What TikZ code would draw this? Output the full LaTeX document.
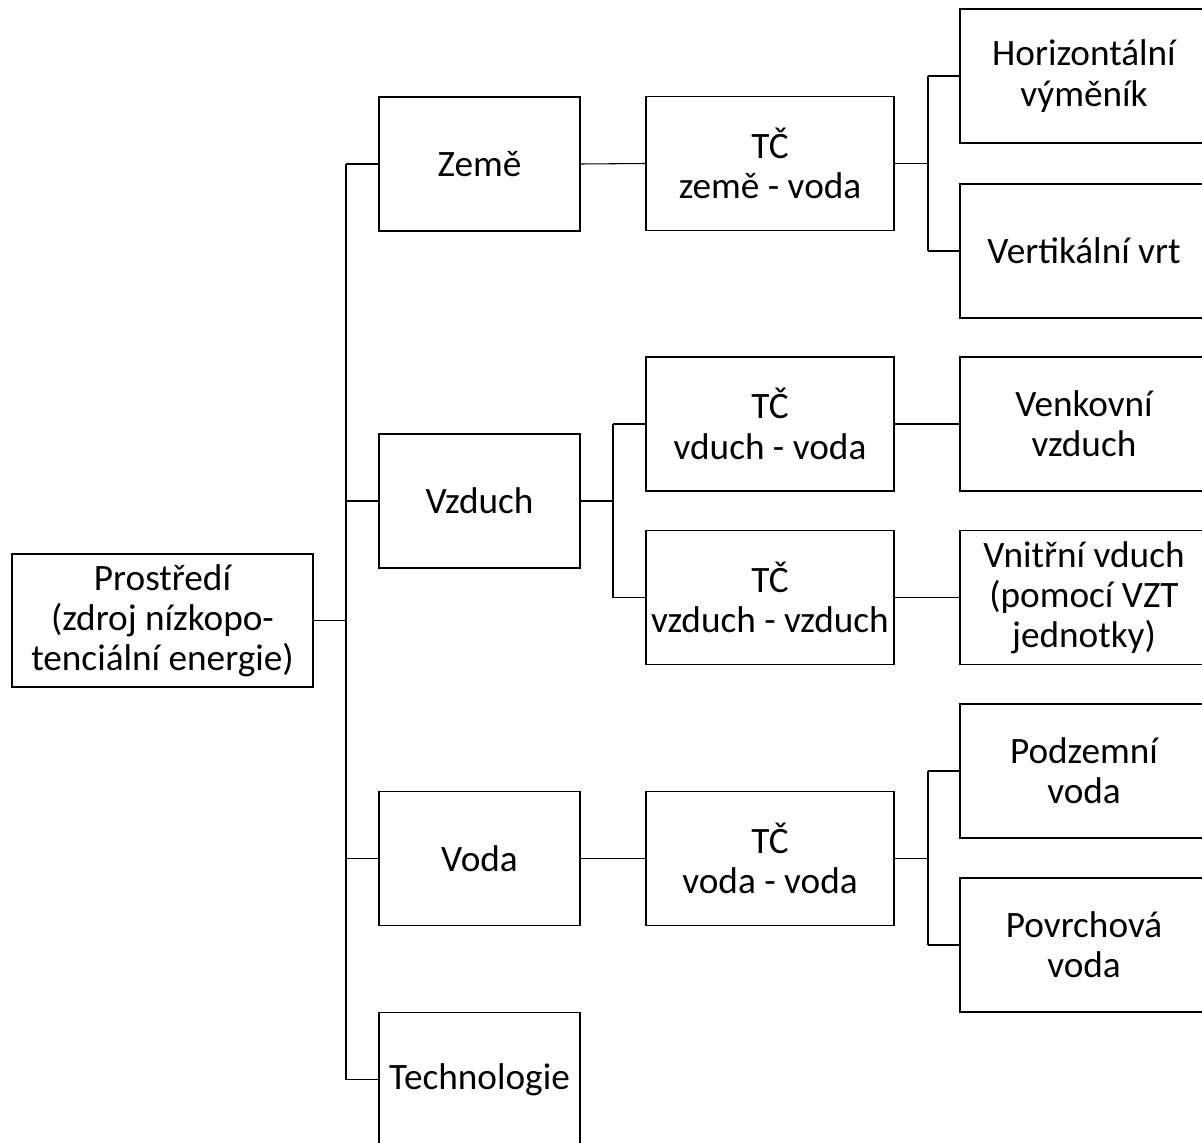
\documentclass[tikz,border=0pt]{standalone}
\usepackage{fontspec}
\setmainfont{Carlito}
\usetikzlibrary{calc}

\begin{document}
\begin{tikzpicture}[x=0.02cm,y=-0.02cm,
    box/.style={draw, line width=1.1pt, align=center, inner sep=0pt,
        minimum height=2.68cm, font=\fontsize{21.2}{22.9}\selectfont},
    srcbox/.style={box, minimum width=4.02cm},
    hpbox/.style={box, minimum width=4.96cm},
    link/.style={draw, line width=0.6pt}]
    % picture frame (right and bottom boxes run off the edge)
    \clip (0,0) rectangle (1202,1142);

    % root
    \node[box, minimum width=6.02cm, minimum height=2.66cm] (prost) at (162.5,620.5)
        {Prostředí\\(zdroj nízkopo-\\tenciální energie)};

    % sources
    \node[srcbox] (zeme)   at (479.5,164)    {Země};
    \node[srcbox] (vzduch) at (479.5,501)    {Vzduch};
    \node[srcbox] (voda)   at (479.5,858.5)  {Voda};
    \node[srcbox] (tech)   at (479.5,1079.5) {Technologie};

    % heat pumps
    \node[hpbox] (tczv) at (770,163.5) {TČ\\země - voda};
    \node[hpbox] (tcvv) at (770,424)   {TČ\\vduch - voda};
    \node[hpbox] (tcvz) at (770,597.5) {TČ\\vzduch - vzduch};
    \node[hpbox] (tcvo) at (770,858.5) {TČ\\voda - voda};

    % collectors
    \node[hpbox] (horiz) at (1084,76)    {Horizontální\\výměník};
    \node[hpbox] (vert)  at (1084,251)   {Vertikální vrt};
    \node[hpbox] (venk)  at (1084,424)   {Venkovní\\vzduch};
    \node[hpbox] (vnit)  at (1084,597.5) {Vnitřní vduch\\(pomocí VZT\\jednotky)};
    \node[hpbox] (podz)  at (1084,771)   {Podzemní\\voda};
    \node[hpbox] (povr)  at (1084,945)   {Povrchová\\voda};

    % branch points
    \coordinate (trunk) at (346,0);
    \coordinate (airfork) at (613,0);
    \coordinate (zfork) at (928,0);

    % root to sources
    \draw[link] (prost.east) -- (prost.east -| trunk);
    \draw[link] (zeme.west -| trunk) -- (tech.west -| trunk);
    \foreach \n in {zeme,vzduch,voda,tech}
        \draw[link] (\n.west -| trunk) -- (\n.west);

    % sources to heat pumps
    \draw[link] (zeme.east) -- (tczv.west);
    \draw[link] (voda.east) -- (tcvo.west);
    \draw[link] (vzduch.east) -- (vzduch.east -| airfork);
    \draw[link] (tcvv.west -| airfork) -- (tcvz.west -| airfork);
    \foreach \n in {tcvv,tcvz}
        \draw[link] (\n.west -| airfork) -- (\n.west);

    % heat pumps to collectors
    \draw[link] (tcvv.east) -- (venk.west);
    \draw[link] (tcvz.east) -- (vnit.west);
    \draw[link] (tczv.east) -- (tczv.east -| zfork);
    \draw[link] (tcvo.east) -- (tcvo.east -| zfork);
    \draw[link] (horiz.west -| zfork) -- (vert.west -| zfork);
    \draw[link] (podz.west -| zfork) -- (povr.west -| zfork);
    \foreach \n in {horiz,vert,podz,povr}
        \draw[link] (\n.west -| zfork) -- (\n.west);
\end{tikzpicture}
\end{document}
